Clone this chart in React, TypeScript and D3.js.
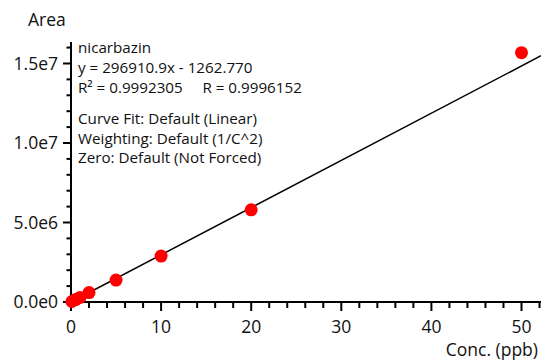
import React from "react";
import * as d3 from "d3";

const conc = [0.1, 0.5, 1, 2, 5, 10, 20, 50];
const area = [30000, 150000, 290000, 590000, 1380000, 2890000, 5800000, 15680000];
const slope = 296910.9;
const intercept = -1262.77;
const xTicks = [0, 10, 20, 30, 40, 50];
const yTicks = [0, 5e6, 1e7, 1.5e7];
const yTickLabels = ["0.0e0", "5.0e6", "1.0e7", "1.5e7"];
const annotation1 = ["nicarbazin", "y = 296910.9x - 1262.770", "R² = 0.9992305     R = 0.9996152"];
const annotation2 = ["Curve Fit: Default (Linear)", "Weighting: Default (1/C^2)", "Zero: Default (Not Forced)"];

const W = 541, H = 360;
const FONT = "'Open Sans', 'Noto Sans', sans-serif";

export default function App() {
  const x = d3.scaleLinear().domain([0, 50]).range([71, 521.5]);
  const y = d3.scaleLinear().domain([0, 1.5e7]).range([302, 63.5]);
  const xMax = x.invert(W);
  const yTop = y.invert(42);
  const xMinor = d3.range(0, xMax, 2).filter((v) => v % 10 !== 0);
  const yMinor = d3.range(0, 1.65e7, 1e6).filter((v) => v % 5e6 !== 0);
  const line = d3.line<number>().x((d) => x(d)).y((d) => y(slope * d + intercept));
  return (
    <svg width={W} height={H} style={{ position: "absolute", left: 0, top: 0, background: "#fff" }} fontFamily={FONT}>
      <rect width={W} height={H} fill="#fff" />
      <line x1={x(0)} x2={x(0)} y1={y(yTop)} y2={303} stroke="#000" strokeWidth={2} />
      <line x1={70} x2={W} y1={y(0)} y2={y(0)} stroke="#000" strokeWidth={2} />
      {yTicks.map((t, i) => (
        <g key={"yt" + i}>
          <line x1={63} x2={71} y1={y(t)} y2={y(t)} stroke="#000" strokeWidth={2} />
          <text x={58} y={y(t)} dy="0.35em" textAnchor="end" fontSize={17.5} fill="#111">{yTickLabels[i]}</text>
        </g>
      ))}
      {yMinor.map((t) => (
        <line key={"ym" + t} x1={66.5} x2={71} y1={y(t)} y2={y(t)} stroke="#000" strokeWidth={2} />
      ))}
      {xTicks.map((t) => (
        <g key={"xt" + t}>
          <line x1={x(t)} x2={x(t)} y1={302} y2={311} stroke="#000" strokeWidth={2} />
          <text x={x(t)} y={333} textAnchor="middle" fontSize={17.5} fill="#111">{t}</text>
        </g>
      ))}
      {xMinor.map((t) => (
        <line key={"xm" + t} x1={x(t)} x2={x(t)} y1={302} y2={308} stroke="#000" strokeWidth={2} />
      ))}
      <text x={28} y={26} fontSize={17.5} fill="#111">Area</text>
      <text x={538} y={356} textAnchor="end" fontSize={17.5} fill="#111">Conc. (ppb)</text>
      <path d={line([0, xMax]) || ""} stroke="#000" strokeWidth={1.5} fill="none" />
      {conc.map((c, i) => (
        <circle key={"p" + i} cx={x(c)} cy={y(area[i])} r={6.5} fill="#ff0000" />
      ))}
      {annotation1.map((s, i) => (
        <text key={"a1" + i} x={78} y={52.5 + i * 20} fontSize={15.2} fill="#111" style={{ whiteSpace: "pre" }}>{s}</text>
      ))}
      {annotation2.map((s, i) => (
        <text key={"a2" + i} x={78} y={124 + i * 19.5} fontSize={15.2} fill="#111">{s}</text>
      ))}
    </svg>
  );
}
